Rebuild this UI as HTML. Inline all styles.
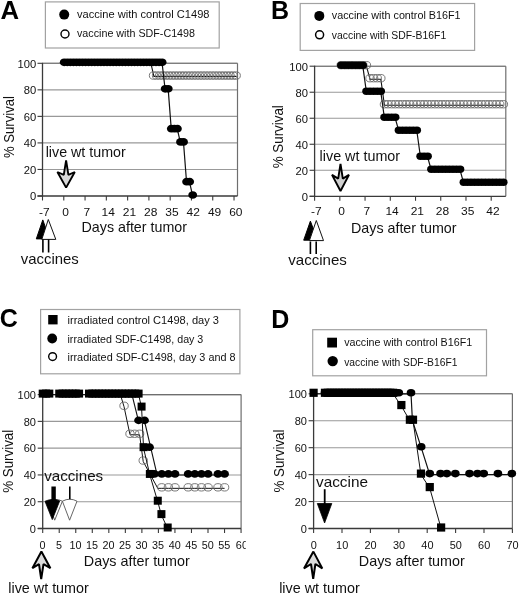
<!DOCTYPE html>
<html><head><meta charset="utf-8"><style>
html,body{margin:0;padding:0;background:#fff;}
svg{display:block;font-family:"Liberation Sans", sans-serif;filter:grayscale(1);}
</style></head><body>
<svg width="520" height="595" viewBox="0 0 520 595">
<defs><clipPath id="cc"><rect x="0" y="0" width="245.8" height="595"/></clipPath></defs>
<text x="0.6" y="18.7" font-size="25" textLength="18.6" lengthAdjust="spacingAndGlyphs" font-weight="bold" fill="#000">A</text>
<rect x="45.4" y="1.9" width="173.8" height="46.1" fill="none" stroke="#a2a2a2" stroke-width="1.2"/>
<ellipse cx="64.20" cy="14.60" rx="5.00" ry="5.00" fill="#000" stroke="none" stroke-width="0"/>
<ellipse cx="65.00" cy="34.00" rx="4.00" ry="4.00" fill="#fff" stroke="#000" stroke-width="1.4"/>
<text x="77.0" y="17.5" font-size="11.6" textLength="132.5" lengthAdjust="spacingAndGlyphs" fill="#111">vaccine with control C1498</text>
<text x="77.0" y="37.3" font-size="11.6" textLength="118" lengthAdjust="spacingAndGlyphs" fill="#111">vaccine with SDF-C1498</text>
<line x1="37.50" y1="196.00" x2="42.50" y2="196.00" stroke="#3a3a3a" stroke-width="1.1"/>
<line x1="42.50" y1="169.46" x2="237.50" y2="169.46" stroke="#999999" stroke-width="1.1"/>
<line x1="37.50" y1="169.46" x2="42.50" y2="169.46" stroke="#3a3a3a" stroke-width="1.1"/>
<line x1="42.50" y1="142.92" x2="237.50" y2="142.92" stroke="#999999" stroke-width="1.1"/>
<line x1="37.50" y1="142.92" x2="42.50" y2="142.92" stroke="#3a3a3a" stroke-width="1.1"/>
<line x1="42.50" y1="116.38" x2="237.50" y2="116.38" stroke="#999999" stroke-width="1.1"/>
<line x1="37.50" y1="116.38" x2="42.50" y2="116.38" stroke="#3a3a3a" stroke-width="1.1"/>
<line x1="42.50" y1="89.84" x2="237.50" y2="89.84" stroke="#999999" stroke-width="1.1"/>
<line x1="37.50" y1="89.84" x2="42.50" y2="89.84" stroke="#3a3a3a" stroke-width="1.1"/>
<line x1="42.50" y1="63.30" x2="237.50" y2="63.30" stroke="#999999" stroke-width="1.1"/>
<line x1="37.50" y1="63.30" x2="42.50" y2="63.30" stroke="#3a3a3a" stroke-width="1.1"/>
<line x1="237.50" y1="63.30" x2="237.50" y2="196.00" stroke="#6e6e6e" stroke-width="1.2"/>
<line x1="42.50" y1="63.30" x2="237.50" y2="63.30" stroke="#6e6e6e" stroke-width="1.1"/>
<line x1="42.50" y1="62.80" x2="42.50" y2="196.50" stroke="#3a3a3a" stroke-width="1.3"/>
<line x1="37.50" y1="196.00" x2="237.50" y2="196.00" stroke="#3a3a3a" stroke-width="1.3"/>
<text x="36.2" y="200.3" font-size="10.5" text-anchor="end" textLength="6.25" lengthAdjust="spacingAndGlyphs" fill="#111">0</text>
<text x="36.2" y="173.76000000000002" font-size="10.5" text-anchor="end" textLength="12.49" lengthAdjust="spacingAndGlyphs" fill="#111">20</text>
<text x="36.2" y="147.22000000000003" font-size="10.5" text-anchor="end" textLength="12.49" lengthAdjust="spacingAndGlyphs" fill="#111">40</text>
<text x="36.2" y="120.68" font-size="10.5" text-anchor="end" textLength="12.49" lengthAdjust="spacingAndGlyphs" fill="#111">60</text>
<text x="36.2" y="94.14" font-size="10.5" text-anchor="end" textLength="12.49" lengthAdjust="spacingAndGlyphs" fill="#111">80</text>
<text x="36.2" y="67.60000000000001" font-size="10.5" text-anchor="end" textLength="18.74" lengthAdjust="spacingAndGlyphs" fill="#111">100</text>
<line x1="42.50" y1="196.00" x2="42.50" y2="200.50" stroke="#3a3a3a" stroke-width="1.1"/>
<text x="44.3" y="215.5" font-size="10.7" text-anchor="middle" textLength="10.65" lengthAdjust="spacingAndGlyphs" fill="#111">-7</text>
<line x1="63.78" y1="196.00" x2="63.78" y2="200.50" stroke="#3a3a3a" stroke-width="1.1"/>
<text x="65.58" y="215.5" font-size="10.7" text-anchor="middle" textLength="6.66" lengthAdjust="spacingAndGlyphs" fill="#111">0</text>
<line x1="85.06" y1="196.00" x2="85.06" y2="200.50" stroke="#3a3a3a" stroke-width="1.1"/>
<text x="86.86" y="215.5" font-size="10.7" text-anchor="middle" textLength="6.66" lengthAdjust="spacingAndGlyphs" fill="#111">7</text>
<line x1="106.34" y1="196.00" x2="106.34" y2="200.50" stroke="#3a3a3a" stroke-width="1.1"/>
<text x="108.14" y="215.5" font-size="10.7" text-anchor="middle" textLength="13.33" lengthAdjust="spacingAndGlyphs" fill="#111">14</text>
<line x1="127.62" y1="196.00" x2="127.62" y2="200.50" stroke="#3a3a3a" stroke-width="1.1"/>
<text x="129.42000000000002" y="215.5" font-size="10.7" text-anchor="middle" textLength="13.33" lengthAdjust="spacingAndGlyphs" fill="#111">21</text>
<line x1="148.90" y1="196.00" x2="148.90" y2="200.50" stroke="#3a3a3a" stroke-width="1.1"/>
<text x="150.70000000000002" y="215.5" font-size="10.7" text-anchor="middle" textLength="13.33" lengthAdjust="spacingAndGlyphs" fill="#111">28</text>
<line x1="170.18" y1="196.00" x2="170.18" y2="200.50" stroke="#3a3a3a" stroke-width="1.1"/>
<text x="171.98000000000002" y="215.5" font-size="10.7" text-anchor="middle" textLength="13.33" lengthAdjust="spacingAndGlyphs" fill="#111">35</text>
<line x1="191.46" y1="196.00" x2="191.46" y2="200.50" stroke="#3a3a3a" stroke-width="1.1"/>
<text x="193.26000000000002" y="215.5" font-size="10.7" text-anchor="middle" textLength="13.33" lengthAdjust="spacingAndGlyphs" fill="#111">42</text>
<line x1="212.74" y1="196.00" x2="212.74" y2="200.50" stroke="#3a3a3a" stroke-width="1.1"/>
<text x="214.54000000000002" y="215.5" font-size="10.7" text-anchor="middle" textLength="13.33" lengthAdjust="spacingAndGlyphs" fill="#111">49</text>
<line x1="234.02" y1="196.00" x2="234.02" y2="200.50" stroke="#3a3a3a" stroke-width="1.1"/>
<text x="235.82000000000002" y="215.5" font-size="10.7" text-anchor="middle" textLength="13.33" lengthAdjust="spacingAndGlyphs" fill="#111">60</text>
<polyline points="65.20,63.30 68.26,63.30 71.32,63.30 74.38,63.30 77.44,63.30 80.50,63.30 83.56,63.30 86.62,63.30 89.68,63.30 92.74,63.30 95.80,63.30 98.86,63.30 101.92,63.30 104.98,63.30 108.04,63.30 111.10,63.30 114.16,63.30 117.22,63.30 120.28,63.30 123.34,63.30 126.40,63.30 129.46,63.30 132.52,63.30 135.58,63.30 138.64,63.30 141.70,63.30 144.76,63.30 147.82,63.30 150.88,63.30 153.94,76.36 157.00,76.36 160.06,76.36 163.12,76.36 166.18,76.36 169.24,76.36 172.30,76.36 175.36,76.36 178.42,76.36 181.48,76.36 184.54,76.36 187.60,76.36 190.66,76.36 193.72,76.36 196.78,76.36 199.84,76.36 202.90,76.36 205.96,76.36 209.02,76.36 212.08,76.36 215.14,76.36 218.20,76.36 221.26,76.36 224.32,76.36 227.38,76.36 230.44,76.36 233.50,76.36 236.56,76.36" fill="none" stroke="#111" stroke-width="1.1"/>
<ellipse cx="153.54" cy="75.56" rx="4.20" ry="3.70" fill="none" stroke="#6a6a6a" stroke-width="0.9"/>
<ellipse cx="156.60" cy="75.56" rx="4.20" ry="3.70" fill="none" stroke="#6a6a6a" stroke-width="0.9"/>
<ellipse cx="159.66" cy="75.56" rx="4.20" ry="3.70" fill="none" stroke="#6a6a6a" stroke-width="0.9"/>
<ellipse cx="162.72" cy="75.56" rx="4.20" ry="3.70" fill="none" stroke="#6a6a6a" stroke-width="0.9"/>
<ellipse cx="165.78" cy="75.56" rx="4.20" ry="3.70" fill="none" stroke="#6a6a6a" stroke-width="0.9"/>
<ellipse cx="168.84" cy="75.56" rx="4.20" ry="3.70" fill="none" stroke="#6a6a6a" stroke-width="0.9"/>
<ellipse cx="171.90" cy="75.56" rx="4.20" ry="3.70" fill="none" stroke="#6a6a6a" stroke-width="0.9"/>
<ellipse cx="174.96" cy="75.56" rx="4.20" ry="3.70" fill="none" stroke="#6a6a6a" stroke-width="0.9"/>
<ellipse cx="178.02" cy="75.56" rx="4.20" ry="3.70" fill="none" stroke="#6a6a6a" stroke-width="0.9"/>
<ellipse cx="181.08" cy="75.56" rx="4.20" ry="3.70" fill="none" stroke="#6a6a6a" stroke-width="0.9"/>
<ellipse cx="184.14" cy="75.56" rx="4.20" ry="3.70" fill="none" stroke="#6a6a6a" stroke-width="0.9"/>
<ellipse cx="187.20" cy="75.56" rx="4.20" ry="3.70" fill="none" stroke="#6a6a6a" stroke-width="0.9"/>
<ellipse cx="190.26" cy="75.56" rx="4.20" ry="3.70" fill="none" stroke="#6a6a6a" stroke-width="0.9"/>
<ellipse cx="193.32" cy="75.56" rx="4.20" ry="3.70" fill="none" stroke="#6a6a6a" stroke-width="0.9"/>
<ellipse cx="196.38" cy="75.56" rx="4.20" ry="3.70" fill="none" stroke="#6a6a6a" stroke-width="0.9"/>
<ellipse cx="199.44" cy="75.56" rx="4.20" ry="3.70" fill="none" stroke="#6a6a6a" stroke-width="0.9"/>
<ellipse cx="202.50" cy="75.56" rx="4.20" ry="3.70" fill="none" stroke="#6a6a6a" stroke-width="0.9"/>
<ellipse cx="205.56" cy="75.56" rx="4.20" ry="3.70" fill="none" stroke="#6a6a6a" stroke-width="0.9"/>
<ellipse cx="208.62" cy="75.56" rx="4.20" ry="3.70" fill="none" stroke="#6a6a6a" stroke-width="0.9"/>
<ellipse cx="211.68" cy="75.56" rx="4.20" ry="3.70" fill="none" stroke="#6a6a6a" stroke-width="0.9"/>
<ellipse cx="214.74" cy="75.56" rx="4.20" ry="3.70" fill="none" stroke="#6a6a6a" stroke-width="0.9"/>
<ellipse cx="217.80" cy="75.56" rx="4.20" ry="3.70" fill="none" stroke="#6a6a6a" stroke-width="0.9"/>
<ellipse cx="220.86" cy="75.56" rx="4.20" ry="3.70" fill="none" stroke="#6a6a6a" stroke-width="0.9"/>
<ellipse cx="223.92" cy="75.56" rx="4.20" ry="3.70" fill="none" stroke="#6a6a6a" stroke-width="0.9"/>
<ellipse cx="226.98" cy="75.56" rx="4.20" ry="3.70" fill="none" stroke="#6a6a6a" stroke-width="0.9"/>
<ellipse cx="230.04" cy="75.56" rx="4.20" ry="3.70" fill="none" stroke="#6a6a6a" stroke-width="0.9"/>
<ellipse cx="233.10" cy="75.56" rx="4.20" ry="3.70" fill="none" stroke="#6a6a6a" stroke-width="0.9"/>
<ellipse cx="236.16" cy="75.56" rx="4.20" ry="3.70" fill="none" stroke="#6a6a6a" stroke-width="0.9"/>
<polyline points="64.20,63.30 67.26,63.30 70.32,63.30 73.38,63.30 76.44,63.30 79.50,63.30 82.56,63.30 85.62,63.30 88.68,63.30 91.74,63.30 94.80,63.30 97.86,63.30 100.92,63.30 103.98,63.30 107.04,63.30 110.10,63.30 113.16,63.30 116.22,63.30 119.28,63.30 122.34,63.30 125.40,63.30 128.46,63.30 131.52,63.30 134.58,63.30 137.64,63.30 140.70,63.30 143.76,63.30 146.82,63.30 149.88,63.30 152.94,63.30 156.00,63.30 159.06,63.30 162.12,63.30 165.18,89.84 168.24,89.84 171.30,129.65 174.36,129.65 177.42,129.65 180.48,142.92 183.54,142.92 186.60,182.73 189.66,182.73 192.72,196.00" fill="none" stroke="#111" stroke-width="1.2"/>
<ellipse cx="64.20" cy="62.30" rx="4.40" ry="3.87" fill="#000" stroke="none" stroke-width="0"/>
<ellipse cx="67.26" cy="62.30" rx="4.40" ry="3.87" fill="#000" stroke="none" stroke-width="0"/>
<ellipse cx="70.32" cy="62.30" rx="4.40" ry="3.87" fill="#000" stroke="none" stroke-width="0"/>
<ellipse cx="73.38" cy="62.30" rx="4.40" ry="3.87" fill="#000" stroke="none" stroke-width="0"/>
<ellipse cx="76.44" cy="62.30" rx="4.40" ry="3.87" fill="#000" stroke="none" stroke-width="0"/>
<ellipse cx="79.50" cy="62.30" rx="4.40" ry="3.87" fill="#000" stroke="none" stroke-width="0"/>
<ellipse cx="82.56" cy="62.30" rx="4.40" ry="3.87" fill="#000" stroke="none" stroke-width="0"/>
<ellipse cx="85.62" cy="62.30" rx="4.40" ry="3.87" fill="#000" stroke="none" stroke-width="0"/>
<ellipse cx="88.68" cy="62.30" rx="4.40" ry="3.87" fill="#000" stroke="none" stroke-width="0"/>
<ellipse cx="91.74" cy="62.30" rx="4.40" ry="3.87" fill="#000" stroke="none" stroke-width="0"/>
<ellipse cx="94.80" cy="62.30" rx="4.40" ry="3.87" fill="#000" stroke="none" stroke-width="0"/>
<ellipse cx="97.86" cy="62.30" rx="4.40" ry="3.87" fill="#000" stroke="none" stroke-width="0"/>
<ellipse cx="100.92" cy="62.30" rx="4.40" ry="3.87" fill="#000" stroke="none" stroke-width="0"/>
<ellipse cx="103.98" cy="62.30" rx="4.40" ry="3.87" fill="#000" stroke="none" stroke-width="0"/>
<ellipse cx="107.04" cy="62.30" rx="4.40" ry="3.87" fill="#000" stroke="none" stroke-width="0"/>
<ellipse cx="110.10" cy="62.30" rx="4.40" ry="3.87" fill="#000" stroke="none" stroke-width="0"/>
<ellipse cx="113.16" cy="62.30" rx="4.40" ry="3.87" fill="#000" stroke="none" stroke-width="0"/>
<ellipse cx="116.22" cy="62.30" rx="4.40" ry="3.87" fill="#000" stroke="none" stroke-width="0"/>
<ellipse cx="119.28" cy="62.30" rx="4.40" ry="3.87" fill="#000" stroke="none" stroke-width="0"/>
<ellipse cx="122.34" cy="62.30" rx="4.40" ry="3.87" fill="#000" stroke="none" stroke-width="0"/>
<ellipse cx="125.40" cy="62.30" rx="4.40" ry="3.87" fill="#000" stroke="none" stroke-width="0"/>
<ellipse cx="128.46" cy="62.30" rx="4.40" ry="3.87" fill="#000" stroke="none" stroke-width="0"/>
<ellipse cx="131.52" cy="62.30" rx="4.40" ry="3.87" fill="#000" stroke="none" stroke-width="0"/>
<ellipse cx="134.58" cy="62.30" rx="4.40" ry="3.87" fill="#000" stroke="none" stroke-width="0"/>
<ellipse cx="137.64" cy="62.30" rx="4.40" ry="3.87" fill="#000" stroke="none" stroke-width="0"/>
<ellipse cx="140.70" cy="62.30" rx="4.40" ry="3.87" fill="#000" stroke="none" stroke-width="0"/>
<ellipse cx="143.76" cy="62.30" rx="4.40" ry="3.87" fill="#000" stroke="none" stroke-width="0"/>
<ellipse cx="146.82" cy="62.30" rx="4.40" ry="3.87" fill="#000" stroke="none" stroke-width="0"/>
<ellipse cx="149.88" cy="62.30" rx="4.40" ry="3.87" fill="#000" stroke="none" stroke-width="0"/>
<ellipse cx="152.94" cy="62.30" rx="4.40" ry="3.87" fill="#000" stroke="none" stroke-width="0"/>
<ellipse cx="156.00" cy="62.30" rx="4.40" ry="3.87" fill="#000" stroke="none" stroke-width="0"/>
<ellipse cx="159.06" cy="62.30" rx="4.40" ry="3.87" fill="#000" stroke="none" stroke-width="0"/>
<ellipse cx="162.12" cy="62.30" rx="4.40" ry="3.87" fill="#000" stroke="none" stroke-width="0"/>
<ellipse cx="165.18" cy="88.84" rx="4.40" ry="3.87" fill="#000" stroke="none" stroke-width="0"/>
<ellipse cx="168.24" cy="88.84" rx="4.40" ry="3.87" fill="#000" stroke="none" stroke-width="0"/>
<ellipse cx="171.30" cy="128.65" rx="4.40" ry="3.87" fill="#000" stroke="none" stroke-width="0"/>
<ellipse cx="174.36" cy="128.65" rx="4.40" ry="3.87" fill="#000" stroke="none" stroke-width="0"/>
<ellipse cx="177.42" cy="128.65" rx="4.40" ry="3.87" fill="#000" stroke="none" stroke-width="0"/>
<ellipse cx="180.48" cy="141.92" rx="4.40" ry="3.87" fill="#000" stroke="none" stroke-width="0"/>
<ellipse cx="183.54" cy="141.92" rx="4.40" ry="3.87" fill="#000" stroke="none" stroke-width="0"/>
<ellipse cx="186.60" cy="181.73" rx="4.40" ry="3.87" fill="#000" stroke="none" stroke-width="0"/>
<ellipse cx="189.66" cy="181.73" rx="4.40" ry="3.87" fill="#000" stroke="none" stroke-width="0"/>
<ellipse cx="192.72" cy="195.00" rx="4.40" ry="3.87" fill="#000" stroke="none" stroke-width="0"/>
<text x="0" y="0" font-size="14.5" text-anchor="middle" textLength="62" lengthAdjust="spacingAndGlyphs" fill="#111" transform="translate(14.4,127) rotate(-90)">% Survival</text>
<text x="81.5" y="232.2" font-size="14.5" textLength="105.5" lengthAdjust="spacingAndGlyphs" fill="#111">Days after tumor</text>
<text x="45.7" y="157.0" font-size="14.3" textLength="80" lengthAdjust="spacingAndGlyphs" fill="#111">live wt tumor</text>
<polygon points="66.10,160.30 68.40,174.80 74.80,172.00 66.10,187.60 57.40,172.00 63.80,174.80" fill="#d8d8d8" stroke="#000" stroke-width="1.9" stroke-linejoin="miter" stroke-miterlimit="1.6"/>
<polygon points="42.80,219.90 49.50,238.90 36.30,238.90" fill="#000" stroke="#000" stroke-width="1.0" stroke-linejoin="miter" stroke-miterlimit="1.6"/>
<polygon points="48.30,219.50 55.80,239.40 41.80,239.40" fill="#fff" stroke="#111" stroke-width="1.0" stroke-linejoin="miter" stroke-miterlimit="1.6"/>
<line x1="42.90" y1="239.50" x2="42.90" y2="252.50" stroke="#000" stroke-width="1.6"/>
<line x1="48.60" y1="239.50" x2="48.60" y2="252.50" stroke="#000" stroke-width="1.6"/>
<text x="20.8" y="263.5" font-size="14.5" textLength="58" lengthAdjust="spacingAndGlyphs" fill="#111">vaccines</text>
<text x="271.0" y="19.2" font-size="25" font-weight="bold" fill="#000">B</text>
<rect x="300.2" y="3.5" width="174.4" height="46.9" fill="none" stroke="#a2a2a2" stroke-width="1.2"/>
<ellipse cx="319.30" cy="15.90" rx="5.00" ry="5.00" fill="#000" stroke="none" stroke-width="0"/>
<ellipse cx="319.60" cy="34.80" rx="4.00" ry="4.00" fill="#fff" stroke="#000" stroke-width="1.5"/>
<text x="331.8" y="19.3" font-size="11.6" textLength="128.8" lengthAdjust="spacingAndGlyphs" fill="#111">vaccine with control B16F1</text>
<text x="331.8" y="38.8" font-size="11.6" textLength="114.4" lengthAdjust="spacingAndGlyphs" fill="#111">vaccine with SDF-B16F1</text>
<line x1="309.60" y1="196.30" x2="314.60" y2="196.30" stroke="#3a3a3a" stroke-width="1.1"/>
<line x1="314.60" y1="170.28" x2="505.80" y2="170.28" stroke="#999999" stroke-width="1.1"/>
<line x1="309.60" y1="170.28" x2="314.60" y2="170.28" stroke="#3a3a3a" stroke-width="1.1"/>
<line x1="314.60" y1="144.26" x2="505.80" y2="144.26" stroke="#999999" stroke-width="1.1"/>
<line x1="309.60" y1="144.26" x2="314.60" y2="144.26" stroke="#3a3a3a" stroke-width="1.1"/>
<line x1="314.60" y1="118.24" x2="505.80" y2="118.24" stroke="#999999" stroke-width="1.1"/>
<line x1="309.60" y1="118.24" x2="314.60" y2="118.24" stroke="#3a3a3a" stroke-width="1.1"/>
<line x1="314.60" y1="92.22" x2="505.80" y2="92.22" stroke="#999999" stroke-width="1.1"/>
<line x1="309.60" y1="92.22" x2="314.60" y2="92.22" stroke="#3a3a3a" stroke-width="1.1"/>
<line x1="314.60" y1="66.20" x2="505.80" y2="66.20" stroke="#999999" stroke-width="1.1"/>
<line x1="309.60" y1="66.20" x2="314.60" y2="66.20" stroke="#3a3a3a" stroke-width="1.1"/>
<line x1="505.80" y1="66.20" x2="505.80" y2="196.30" stroke="#6e6e6e" stroke-width="1.2"/>
<line x1="314.60" y1="66.20" x2="505.80" y2="66.20" stroke="#6e6e6e" stroke-width="1.1"/>
<line x1="314.60" y1="65.70" x2="314.60" y2="196.80" stroke="#3a3a3a" stroke-width="1.3"/>
<line x1="309.60" y1="196.30" x2="505.80" y2="196.30" stroke="#3a3a3a" stroke-width="1.3"/>
<text x="308.0" y="200.60000000000002" font-size="10.5" text-anchor="end" textLength="6.25" lengthAdjust="spacingAndGlyphs" fill="#111">0</text>
<text x="308.0" y="174.58" font-size="10.5" text-anchor="end" textLength="12.49" lengthAdjust="spacingAndGlyphs" fill="#111">20</text>
<text x="308.0" y="148.56" font-size="10.5" text-anchor="end" textLength="12.49" lengthAdjust="spacingAndGlyphs" fill="#111">40</text>
<text x="308.0" y="122.53999999999999" font-size="10.5" text-anchor="end" textLength="12.49" lengthAdjust="spacingAndGlyphs" fill="#111">60</text>
<text x="308.0" y="96.52" font-size="10.5" text-anchor="end" textLength="12.49" lengthAdjust="spacingAndGlyphs" fill="#111">80</text>
<text x="308.0" y="70.49999999999999" font-size="10.5" text-anchor="end" textLength="18.74" lengthAdjust="spacingAndGlyphs" fill="#111">100</text>
<line x1="314.60" y1="196.30" x2="314.60" y2="200.80" stroke="#3a3a3a" stroke-width="1.1"/>
<text x="316.40000000000003" y="215.3" font-size="10.7" text-anchor="middle" textLength="10.65" lengthAdjust="spacingAndGlyphs" fill="#111">-7</text>
<line x1="339.83" y1="196.30" x2="339.83" y2="200.80" stroke="#3a3a3a" stroke-width="1.1"/>
<text x="341.63000000000005" y="215.3" font-size="10.7" text-anchor="middle" textLength="6.66" lengthAdjust="spacingAndGlyphs" fill="#111">0</text>
<line x1="365.06" y1="196.30" x2="365.06" y2="200.80" stroke="#3a3a3a" stroke-width="1.1"/>
<text x="366.86" y="215.3" font-size="10.7" text-anchor="middle" textLength="6.66" lengthAdjust="spacingAndGlyphs" fill="#111">7</text>
<line x1="390.29" y1="196.30" x2="390.29" y2="200.80" stroke="#3a3a3a" stroke-width="1.1"/>
<text x="392.09000000000003" y="215.3" font-size="10.7" text-anchor="middle" textLength="13.33" lengthAdjust="spacingAndGlyphs" fill="#111">14</text>
<line x1="415.52" y1="196.30" x2="415.52" y2="200.80" stroke="#3a3a3a" stroke-width="1.1"/>
<text x="417.32000000000005" y="215.3" font-size="10.7" text-anchor="middle" textLength="13.33" lengthAdjust="spacingAndGlyphs" fill="#111">21</text>
<line x1="440.75" y1="196.30" x2="440.75" y2="200.80" stroke="#3a3a3a" stroke-width="1.1"/>
<text x="442.55" y="215.3" font-size="10.7" text-anchor="middle" textLength="13.33" lengthAdjust="spacingAndGlyphs" fill="#111">28</text>
<line x1="465.98" y1="196.30" x2="465.98" y2="200.80" stroke="#3a3a3a" stroke-width="1.1"/>
<text x="467.78000000000003" y="215.3" font-size="10.7" text-anchor="middle" textLength="13.33" lengthAdjust="spacingAndGlyphs" fill="#111">35</text>
<line x1="491.21" y1="196.30" x2="491.21" y2="200.80" stroke="#3a3a3a" stroke-width="1.1"/>
<text x="493.01000000000005" y="215.3" font-size="10.7" text-anchor="middle" textLength="13.33" lengthAdjust="spacingAndGlyphs" fill="#111">42</text>
<polyline points="341.20,66.20 344.80,66.20 348.41,66.20 352.01,66.20 355.62,66.20 359.22,66.20 362.82,66.20 366.43,66.20 370.03,79.21 373.64,79.21 377.24,79.21 380.84,79.21 384.45,105.23 388.05,105.23 391.66,105.23 395.26,105.23 398.86,105.23 402.47,105.23 406.07,105.23 409.68,105.23 413.28,105.23 416.88,105.23 420.49,105.23 424.09,105.23 427.70,105.23 431.30,105.23 434.90,105.23 438.51,105.23 442.11,105.23 445.72,105.23 449.32,105.23 452.92,105.23 456.53,105.23 460.13,105.23 463.74,105.23 467.34,105.23 470.94,105.23 474.55,105.23 478.15,105.23 481.76,105.23 485.36,105.23 488.96,105.23 492.57,105.23 496.17,105.23 499.78,105.23 503.38,105.23" fill="none" stroke="#111" stroke-width="1.1"/>
<ellipse cx="341.20" cy="65.20" rx="4.20" ry="3.70" fill="none" stroke="#6a6a6a" stroke-width="0.9"/>
<ellipse cx="344.80" cy="65.20" rx="4.20" ry="3.70" fill="none" stroke="#6a6a6a" stroke-width="0.9"/>
<ellipse cx="348.41" cy="65.20" rx="4.20" ry="3.70" fill="none" stroke="#6a6a6a" stroke-width="0.9"/>
<ellipse cx="352.01" cy="65.20" rx="4.20" ry="3.70" fill="none" stroke="#6a6a6a" stroke-width="0.9"/>
<ellipse cx="355.62" cy="65.20" rx="4.20" ry="3.70" fill="none" stroke="#6a6a6a" stroke-width="0.9"/>
<ellipse cx="359.22" cy="65.20" rx="4.20" ry="3.70" fill="none" stroke="#6a6a6a" stroke-width="0.9"/>
<ellipse cx="362.82" cy="65.20" rx="4.20" ry="3.70" fill="none" stroke="#6a6a6a" stroke-width="0.9"/>
<ellipse cx="366.43" cy="65.20" rx="4.20" ry="3.70" fill="none" stroke="#6a6a6a" stroke-width="0.9"/>
<ellipse cx="370.03" cy="78.21" rx="4.20" ry="3.70" fill="none" stroke="#6a6a6a" stroke-width="0.9"/>
<ellipse cx="373.64" cy="78.21" rx="4.20" ry="3.70" fill="none" stroke="#6a6a6a" stroke-width="0.9"/>
<ellipse cx="377.24" cy="78.21" rx="4.20" ry="3.70" fill="none" stroke="#6a6a6a" stroke-width="0.9"/>
<ellipse cx="380.84" cy="78.21" rx="4.20" ry="3.70" fill="none" stroke="#6a6a6a" stroke-width="0.9"/>
<ellipse cx="384.45" cy="104.23" rx="4.20" ry="3.70" fill="none" stroke="#6a6a6a" stroke-width="0.9"/>
<ellipse cx="388.05" cy="104.23" rx="4.20" ry="3.70" fill="none" stroke="#6a6a6a" stroke-width="0.9"/>
<ellipse cx="391.66" cy="104.23" rx="4.20" ry="3.70" fill="none" stroke="#6a6a6a" stroke-width="0.9"/>
<ellipse cx="395.26" cy="104.23" rx="4.20" ry="3.70" fill="none" stroke="#6a6a6a" stroke-width="0.9"/>
<ellipse cx="398.86" cy="104.23" rx="4.20" ry="3.70" fill="none" stroke="#6a6a6a" stroke-width="0.9"/>
<ellipse cx="402.47" cy="104.23" rx="4.20" ry="3.70" fill="none" stroke="#6a6a6a" stroke-width="0.9"/>
<ellipse cx="406.07" cy="104.23" rx="4.20" ry="3.70" fill="none" stroke="#6a6a6a" stroke-width="0.9"/>
<ellipse cx="409.68" cy="104.23" rx="4.20" ry="3.70" fill="none" stroke="#6a6a6a" stroke-width="0.9"/>
<ellipse cx="413.28" cy="104.23" rx="4.20" ry="3.70" fill="none" stroke="#6a6a6a" stroke-width="0.9"/>
<ellipse cx="416.88" cy="104.23" rx="4.20" ry="3.70" fill="none" stroke="#6a6a6a" stroke-width="0.9"/>
<ellipse cx="420.49" cy="104.23" rx="4.20" ry="3.70" fill="none" stroke="#6a6a6a" stroke-width="0.9"/>
<ellipse cx="424.09" cy="104.23" rx="4.20" ry="3.70" fill="none" stroke="#6a6a6a" stroke-width="0.9"/>
<ellipse cx="427.70" cy="104.23" rx="4.20" ry="3.70" fill="none" stroke="#6a6a6a" stroke-width="0.9"/>
<ellipse cx="431.30" cy="104.23" rx="4.20" ry="3.70" fill="none" stroke="#6a6a6a" stroke-width="0.9"/>
<ellipse cx="434.90" cy="104.23" rx="4.20" ry="3.70" fill="none" stroke="#6a6a6a" stroke-width="0.9"/>
<ellipse cx="438.51" cy="104.23" rx="4.20" ry="3.70" fill="none" stroke="#6a6a6a" stroke-width="0.9"/>
<ellipse cx="442.11" cy="104.23" rx="4.20" ry="3.70" fill="none" stroke="#6a6a6a" stroke-width="0.9"/>
<ellipse cx="445.72" cy="104.23" rx="4.20" ry="3.70" fill="none" stroke="#6a6a6a" stroke-width="0.9"/>
<ellipse cx="449.32" cy="104.23" rx="4.20" ry="3.70" fill="none" stroke="#6a6a6a" stroke-width="0.9"/>
<ellipse cx="452.92" cy="104.23" rx="4.20" ry="3.70" fill="none" stroke="#6a6a6a" stroke-width="0.9"/>
<ellipse cx="456.53" cy="104.23" rx="4.20" ry="3.70" fill="none" stroke="#6a6a6a" stroke-width="0.9"/>
<ellipse cx="460.13" cy="104.23" rx="4.20" ry="3.70" fill="none" stroke="#6a6a6a" stroke-width="0.9"/>
<ellipse cx="463.74" cy="104.23" rx="4.20" ry="3.70" fill="none" stroke="#6a6a6a" stroke-width="0.9"/>
<ellipse cx="467.34" cy="104.23" rx="4.20" ry="3.70" fill="none" stroke="#6a6a6a" stroke-width="0.9"/>
<ellipse cx="470.94" cy="104.23" rx="4.20" ry="3.70" fill="none" stroke="#6a6a6a" stroke-width="0.9"/>
<ellipse cx="474.55" cy="104.23" rx="4.20" ry="3.70" fill="none" stroke="#6a6a6a" stroke-width="0.9"/>
<ellipse cx="478.15" cy="104.23" rx="4.20" ry="3.70" fill="none" stroke="#6a6a6a" stroke-width="0.9"/>
<ellipse cx="481.76" cy="104.23" rx="4.20" ry="3.70" fill="none" stroke="#6a6a6a" stroke-width="0.9"/>
<ellipse cx="485.36" cy="104.23" rx="4.20" ry="3.70" fill="none" stroke="#6a6a6a" stroke-width="0.9"/>
<ellipse cx="488.96" cy="104.23" rx="4.20" ry="3.70" fill="none" stroke="#6a6a6a" stroke-width="0.9"/>
<ellipse cx="492.57" cy="104.23" rx="4.20" ry="3.70" fill="none" stroke="#6a6a6a" stroke-width="0.9"/>
<ellipse cx="496.17" cy="104.23" rx="4.20" ry="3.70" fill="none" stroke="#6a6a6a" stroke-width="0.9"/>
<ellipse cx="499.78" cy="104.23" rx="4.20" ry="3.70" fill="none" stroke="#6a6a6a" stroke-width="0.9"/>
<ellipse cx="503.38" cy="104.23" rx="4.20" ry="3.70" fill="none" stroke="#6a6a6a" stroke-width="0.9"/>
<polyline points="341.20,66.20 344.80,66.20 348.41,66.20 352.01,66.20 355.62,66.20 359.22,66.20 362.82,66.20 366.43,92.22 370.03,92.22 373.64,92.22 377.24,92.22 380.84,92.22 384.45,118.24 388.05,118.24 391.66,118.24 395.26,118.24 398.86,131.25 402.47,131.25 406.07,131.25 409.68,131.25 413.28,131.25 416.88,131.25 420.49,157.27 424.09,157.27 427.70,157.27 431.30,170.28 434.90,170.28 438.51,170.28 442.11,170.28 445.72,170.28 449.32,170.28 452.92,170.28 456.53,170.28 460.13,170.28 463.74,183.29 467.34,183.29 470.94,183.29 474.55,183.29 478.15,183.29 481.76,183.29 485.36,183.29 488.96,183.29 492.57,183.29 496.17,183.29 499.78,183.29 503.38,183.29" fill="none" stroke="#111" stroke-width="1.2"/>
<ellipse cx="341.20" cy="65.20" rx="4.20" ry="3.70" fill="#000" stroke="none" stroke-width="0"/>
<ellipse cx="344.80" cy="65.20" rx="4.20" ry="3.70" fill="#000" stroke="none" stroke-width="0"/>
<ellipse cx="348.41" cy="65.20" rx="4.20" ry="3.70" fill="#000" stroke="none" stroke-width="0"/>
<ellipse cx="352.01" cy="65.20" rx="4.20" ry="3.70" fill="#000" stroke="none" stroke-width="0"/>
<ellipse cx="355.62" cy="65.20" rx="4.20" ry="3.70" fill="#000" stroke="none" stroke-width="0"/>
<ellipse cx="359.22" cy="65.20" rx="4.20" ry="3.70" fill="#000" stroke="none" stroke-width="0"/>
<ellipse cx="362.82" cy="65.20" rx="4.20" ry="3.70" fill="#000" stroke="none" stroke-width="0"/>
<ellipse cx="366.43" cy="91.22" rx="4.20" ry="3.70" fill="#000" stroke="none" stroke-width="0"/>
<ellipse cx="370.03" cy="91.22" rx="4.20" ry="3.70" fill="#000" stroke="none" stroke-width="0"/>
<ellipse cx="373.64" cy="91.22" rx="4.20" ry="3.70" fill="#000" stroke="none" stroke-width="0"/>
<ellipse cx="377.24" cy="91.22" rx="4.20" ry="3.70" fill="#000" stroke="none" stroke-width="0"/>
<ellipse cx="380.84" cy="91.22" rx="4.20" ry="3.70" fill="#000" stroke="none" stroke-width="0"/>
<ellipse cx="384.45" cy="117.24" rx="4.20" ry="3.70" fill="#000" stroke="none" stroke-width="0"/>
<ellipse cx="388.05" cy="117.24" rx="4.20" ry="3.70" fill="#000" stroke="none" stroke-width="0"/>
<ellipse cx="391.66" cy="117.24" rx="4.20" ry="3.70" fill="#000" stroke="none" stroke-width="0"/>
<ellipse cx="395.26" cy="117.24" rx="4.20" ry="3.70" fill="#000" stroke="none" stroke-width="0"/>
<ellipse cx="398.86" cy="130.25" rx="4.20" ry="3.70" fill="#000" stroke="none" stroke-width="0"/>
<ellipse cx="402.47" cy="130.25" rx="4.20" ry="3.70" fill="#000" stroke="none" stroke-width="0"/>
<ellipse cx="406.07" cy="130.25" rx="4.20" ry="3.70" fill="#000" stroke="none" stroke-width="0"/>
<ellipse cx="409.68" cy="130.25" rx="4.20" ry="3.70" fill="#000" stroke="none" stroke-width="0"/>
<ellipse cx="413.28" cy="130.25" rx="4.20" ry="3.70" fill="#000" stroke="none" stroke-width="0"/>
<ellipse cx="416.88" cy="130.25" rx="4.20" ry="3.70" fill="#000" stroke="none" stroke-width="0"/>
<ellipse cx="420.49" cy="156.27" rx="4.20" ry="3.70" fill="#000" stroke="none" stroke-width="0"/>
<ellipse cx="424.09" cy="156.27" rx="4.20" ry="3.70" fill="#000" stroke="none" stroke-width="0"/>
<ellipse cx="427.70" cy="156.27" rx="4.20" ry="3.70" fill="#000" stroke="none" stroke-width="0"/>
<ellipse cx="431.30" cy="169.28" rx="4.20" ry="3.70" fill="#000" stroke="none" stroke-width="0"/>
<ellipse cx="434.90" cy="169.28" rx="4.20" ry="3.70" fill="#000" stroke="none" stroke-width="0"/>
<ellipse cx="438.51" cy="169.28" rx="4.20" ry="3.70" fill="#000" stroke="none" stroke-width="0"/>
<ellipse cx="442.11" cy="169.28" rx="4.20" ry="3.70" fill="#000" stroke="none" stroke-width="0"/>
<ellipse cx="445.72" cy="169.28" rx="4.20" ry="3.70" fill="#000" stroke="none" stroke-width="0"/>
<ellipse cx="449.32" cy="169.28" rx="4.20" ry="3.70" fill="#000" stroke="none" stroke-width="0"/>
<ellipse cx="452.92" cy="169.28" rx="4.20" ry="3.70" fill="#000" stroke="none" stroke-width="0"/>
<ellipse cx="456.53" cy="169.28" rx="4.20" ry="3.70" fill="#000" stroke="none" stroke-width="0"/>
<ellipse cx="460.13" cy="169.28" rx="4.20" ry="3.70" fill="#000" stroke="none" stroke-width="0"/>
<ellipse cx="463.74" cy="182.29" rx="4.20" ry="3.70" fill="#000" stroke="none" stroke-width="0"/>
<ellipse cx="467.34" cy="182.29" rx="4.20" ry="3.70" fill="#000" stroke="none" stroke-width="0"/>
<ellipse cx="470.94" cy="182.29" rx="4.20" ry="3.70" fill="#000" stroke="none" stroke-width="0"/>
<ellipse cx="474.55" cy="182.29" rx="4.20" ry="3.70" fill="#000" stroke="none" stroke-width="0"/>
<ellipse cx="478.15" cy="182.29" rx="4.20" ry="3.70" fill="#000" stroke="none" stroke-width="0"/>
<ellipse cx="481.76" cy="182.29" rx="4.20" ry="3.70" fill="#000" stroke="none" stroke-width="0"/>
<ellipse cx="485.36" cy="182.29" rx="4.20" ry="3.70" fill="#000" stroke="none" stroke-width="0"/>
<ellipse cx="488.96" cy="182.29" rx="4.20" ry="3.70" fill="#000" stroke="none" stroke-width="0"/>
<ellipse cx="492.57" cy="182.29" rx="4.20" ry="3.70" fill="#000" stroke="none" stroke-width="0"/>
<ellipse cx="496.17" cy="182.29" rx="4.20" ry="3.70" fill="#000" stroke="none" stroke-width="0"/>
<ellipse cx="499.78" cy="182.29" rx="4.20" ry="3.70" fill="#000" stroke="none" stroke-width="0"/>
<ellipse cx="503.38" cy="182.29" rx="4.20" ry="3.70" fill="#000" stroke="none" stroke-width="0"/>
<text x="0" y="0" font-size="14.5" text-anchor="middle" textLength="63" lengthAdjust="spacingAndGlyphs" fill="#111" transform="translate(283.1,136.7) rotate(-90)">% Survival</text>
<text x="351.0" y="233.0" font-size="14.5" textLength="105.5" lengthAdjust="spacingAndGlyphs" fill="#111">Days after tumor</text>
<text x="319.6" y="160.6" font-size="14.3" textLength="80.5" lengthAdjust="spacingAndGlyphs" fill="#111">live wt tumor</text>
<polygon points="340.50,163.90 342.80,178.60 349.00,174.90 340.50,191.00 332.00,174.90 338.20,178.60" fill="#d0d0d0" stroke="#000" stroke-width="1.9" stroke-linejoin="miter" stroke-miterlimit="1.6"/>
<polygon points="310.40,221.10 317.50,240.20 303.70,240.20" fill="#000" stroke="#000" stroke-width="1.0" stroke-linejoin="miter" stroke-miterlimit="1.6"/>
<polygon points="316.30,220.50 323.50,240.60 309.40,240.60" fill="#fff" stroke="#111" stroke-width="1.0" stroke-linejoin="miter" stroke-miterlimit="1.6"/>
<line x1="310.40" y1="241.50" x2="310.40" y2="254.00" stroke="#000" stroke-width="1.6"/>
<line x1="316.20" y1="241.50" x2="316.20" y2="254.00" stroke="#000" stroke-width="1.6"/>
<text x="288.3" y="264.6" font-size="14.5" textLength="58.6" lengthAdjust="spacingAndGlyphs" fill="#111">vaccines</text>
<text x="-0.2" y="327.1" font-size="25" font-weight="bold" fill="#000">C</text>
<rect x="40.6" y="309.5" width="199.3" height="64.3" fill="none" stroke="#a2a2a2" stroke-width="1.2"/>
<rect x="48.20" y="315.00" width="9.4" height="9.4" fill="#000"/>
<ellipse cx="52.20" cy="338.50" rx="4.90" ry="4.90" fill="#000" stroke="none" stroke-width="0"/>
<ellipse cx="52.60" cy="356.60" rx="3.90" ry="3.90" fill="#fff" stroke="#000" stroke-width="1.4"/>
<text x="67.5" y="323.8" font-size="11.6" textLength="151.5" lengthAdjust="spacingAndGlyphs" fill="#111">irradiated control C1498, day 3</text>
<text x="67.5" y="342.8" font-size="11.6" textLength="135.8" lengthAdjust="spacingAndGlyphs" fill="#111">irradiated SDF-C1498, day 3</text>
<text x="67.5" y="360.8" font-size="11.6" textLength="168" lengthAdjust="spacingAndGlyphs" fill="#111">irradiated SDF-C1498, day 3 and 8</text>
<line x1="37.70" y1="528.50" x2="42.70" y2="528.50" stroke="#3a3a3a" stroke-width="1.1"/>
<line x1="42.70" y1="501.72" x2="241.10" y2="501.72" stroke="#999999" stroke-width="1.1"/>
<line x1="37.70" y1="501.72" x2="42.70" y2="501.72" stroke="#3a3a3a" stroke-width="1.1"/>
<line x1="42.70" y1="474.94" x2="241.10" y2="474.94" stroke="#999999" stroke-width="1.1"/>
<line x1="37.70" y1="474.94" x2="42.70" y2="474.94" stroke="#3a3a3a" stroke-width="1.1"/>
<line x1="42.70" y1="448.16" x2="241.10" y2="448.16" stroke="#999999" stroke-width="1.1"/>
<line x1="37.70" y1="448.16" x2="42.70" y2="448.16" stroke="#3a3a3a" stroke-width="1.1"/>
<line x1="42.70" y1="421.38" x2="241.10" y2="421.38" stroke="#999999" stroke-width="1.1"/>
<line x1="37.70" y1="421.38" x2="42.70" y2="421.38" stroke="#3a3a3a" stroke-width="1.1"/>
<line x1="42.70" y1="394.60" x2="241.10" y2="394.60" stroke="#999999" stroke-width="1.1"/>
<line x1="37.70" y1="394.60" x2="42.70" y2="394.60" stroke="#3a3a3a" stroke-width="1.1"/>
<line x1="241.10" y1="394.60" x2="241.10" y2="528.50" stroke="#6e6e6e" stroke-width="1.2"/>
<line x1="42.70" y1="394.60" x2="241.10" y2="394.60" stroke="#6e6e6e" stroke-width="1.1"/>
<line x1="42.70" y1="394.10" x2="42.70" y2="529.00" stroke="#3a3a3a" stroke-width="1.3"/>
<line x1="37.70" y1="528.50" x2="241.10" y2="528.50" stroke="#3a3a3a" stroke-width="1.3"/>
<text x="36.0" y="532.8" font-size="10.3" text-anchor="end" textLength="6.13" lengthAdjust="spacingAndGlyphs" fill="#111">0</text>
<text x="36.0" y="506.02000000000004" font-size="10.3" text-anchor="end" textLength="12.26" lengthAdjust="spacingAndGlyphs" fill="#111">20</text>
<text x="36.0" y="479.24" font-size="10.3" text-anchor="end" textLength="12.26" lengthAdjust="spacingAndGlyphs" fill="#111">40</text>
<text x="36.0" y="452.46000000000004" font-size="10.3" text-anchor="end" textLength="12.26" lengthAdjust="spacingAndGlyphs" fill="#111">60</text>
<text x="36.0" y="425.68" font-size="10.3" text-anchor="end" textLength="12.26" lengthAdjust="spacingAndGlyphs" fill="#111">80</text>
<text x="36.0" y="398.90000000000003" font-size="10.3" text-anchor="end" textLength="18.38" lengthAdjust="spacingAndGlyphs" fill="#111">100</text>
<line x1="42.70" y1="528.50" x2="42.70" y2="533.00" stroke="#3a3a3a" stroke-width="1.1"/>
<text x="42.400000000000006" y="549.0" font-size="10.3" text-anchor="middle" textLength="6.01" lengthAdjust="spacingAndGlyphs" fill="#111">0</text>
<line x1="59.23" y1="528.50" x2="59.23" y2="533.00" stroke="#3a3a3a" stroke-width="1.1"/>
<text x="58.93000000000001" y="549.0" font-size="10.3" text-anchor="middle" textLength="6.01" lengthAdjust="spacingAndGlyphs" fill="#111">5</text>
<line x1="75.76" y1="528.50" x2="75.76" y2="533.00" stroke="#3a3a3a" stroke-width="1.1"/>
<text x="75.46000000000001" y="549.0" font-size="10.3" text-anchor="middle" textLength="12.03" lengthAdjust="spacingAndGlyphs" fill="#111">10</text>
<line x1="92.29" y1="528.50" x2="92.29" y2="533.00" stroke="#3a3a3a" stroke-width="1.1"/>
<text x="91.99000000000001" y="549.0" font-size="10.3" text-anchor="middle" textLength="12.03" lengthAdjust="spacingAndGlyphs" fill="#111">15</text>
<line x1="108.82" y1="528.50" x2="108.82" y2="533.00" stroke="#3a3a3a" stroke-width="1.1"/>
<text x="108.52000000000001" y="549.0" font-size="10.3" text-anchor="middle" textLength="12.03" lengthAdjust="spacingAndGlyphs" fill="#111">20</text>
<line x1="125.35" y1="528.50" x2="125.35" y2="533.00" stroke="#3a3a3a" stroke-width="1.1"/>
<text x="125.05000000000001" y="549.0" font-size="10.3" text-anchor="middle" textLength="12.03" lengthAdjust="spacingAndGlyphs" fill="#111">25</text>
<line x1="141.88" y1="528.50" x2="141.88" y2="533.00" stroke="#3a3a3a" stroke-width="1.1"/>
<text x="141.57999999999998" y="549.0" font-size="10.3" text-anchor="middle" textLength="12.03" lengthAdjust="spacingAndGlyphs" fill="#111">30</text>
<line x1="158.41" y1="528.50" x2="158.41" y2="533.00" stroke="#3a3a3a" stroke-width="1.1"/>
<text x="158.11" y="549.0" font-size="10.3" text-anchor="middle" textLength="12.03" lengthAdjust="spacingAndGlyphs" fill="#111">35</text>
<line x1="174.94" y1="528.50" x2="174.94" y2="533.00" stroke="#3a3a3a" stroke-width="1.1"/>
<text x="174.64" y="549.0" font-size="10.3" text-anchor="middle" textLength="12.03" lengthAdjust="spacingAndGlyphs" fill="#111">40</text>
<line x1="191.47" y1="528.50" x2="191.47" y2="533.00" stroke="#3a3a3a" stroke-width="1.1"/>
<text x="191.17000000000002" y="549.0" font-size="10.3" text-anchor="middle" textLength="12.03" lengthAdjust="spacingAndGlyphs" fill="#111">45</text>
<line x1="208.00" y1="528.50" x2="208.00" y2="533.00" stroke="#3a3a3a" stroke-width="1.1"/>
<text x="207.7" y="549.0" font-size="10.3" text-anchor="middle" textLength="12.03" lengthAdjust="spacingAndGlyphs" fill="#111">50</text>
<line x1="224.53" y1="528.50" x2="224.53" y2="533.00" stroke="#3a3a3a" stroke-width="1.1"/>
<text x="224.23000000000002" y="549.0" font-size="10.3" text-anchor="middle" textLength="12.03" lengthAdjust="spacingAndGlyphs" fill="#111">55</text>
<line x1="241.06" y1="528.50" x2="241.06" y2="533.00" stroke="#3a3a3a" stroke-width="1.1"/>
<text x="241.9" y="549.0" font-size="10.3" text-anchor="middle" textLength="12.1" lengthAdjust="spacingAndGlyphs" fill="#111" clip-path="url(#cc)">60</text>
<polyline points="120.41,394.60 124.05,406.78 130.00,434.77 139.60,434.77 143.23,461.55 157.78,488.33 161.75,488.33 168.37,488.33 174.98,488.33 188.21,488.33 194.82,488.33 201.44,488.33 208.05,488.33 217.97,488.33 224.58,488.33" fill="none" stroke="#111" stroke-width="1.0"/>
<ellipse cx="124.05" cy="405.78" rx="4.20" ry="3.70" fill="none" stroke="#6a6a6a" stroke-width="0.9"/>
<ellipse cx="130.00" cy="433.77" rx="4.20" ry="3.70" fill="none" stroke="#6a6a6a" stroke-width="0.9"/>
<ellipse cx="134.63" cy="433.77" rx="4.20" ry="3.70" fill="none" stroke="#6a6a6a" stroke-width="0.9"/>
<ellipse cx="139.60" cy="433.77" rx="4.20" ry="3.70" fill="none" stroke="#6a6a6a" stroke-width="0.9"/>
<ellipse cx="143.23" cy="460.55" rx="4.20" ry="3.70" fill="none" stroke="#6a6a6a" stroke-width="0.9"/>
<ellipse cx="161.75" cy="487.33" rx="4.20" ry="3.70" fill="none" stroke="#6a6a6a" stroke-width="0.9"/>
<ellipse cx="168.37" cy="487.33" rx="4.20" ry="3.70" fill="none" stroke="#6a6a6a" stroke-width="0.9"/>
<ellipse cx="174.98" cy="487.33" rx="4.20" ry="3.70" fill="none" stroke="#6a6a6a" stroke-width="0.9"/>
<ellipse cx="188.21" cy="487.33" rx="4.20" ry="3.70" fill="none" stroke="#6a6a6a" stroke-width="0.9"/>
<ellipse cx="194.82" cy="487.33" rx="4.20" ry="3.70" fill="none" stroke="#6a6a6a" stroke-width="0.9"/>
<ellipse cx="201.44" cy="487.33" rx="4.20" ry="3.70" fill="none" stroke="#6a6a6a" stroke-width="0.9"/>
<ellipse cx="208.05" cy="487.33" rx="4.20" ry="3.70" fill="none" stroke="#6a6a6a" stroke-width="0.9"/>
<ellipse cx="217.97" cy="487.33" rx="4.20" ry="3.70" fill="none" stroke="#6a6a6a" stroke-width="0.9"/>
<ellipse cx="224.58" cy="487.33" rx="4.20" ry="3.70" fill="none" stroke="#6a6a6a" stroke-width="0.9"/>
<polyline points="131.99,394.60 138.60,421.38 144.56,421.38 157.12,474.94 161.75,474.94 168.37,474.94 174.98,474.94 188.21,474.94 194.82,474.94 201.44,474.94 208.05,474.94 217.97,474.94 224.58,474.94" fill="none" stroke="#111" stroke-width="1.1"/>
<ellipse cx="138.60" cy="420.38" rx="4.40" ry="3.87" fill="#000" stroke="none" stroke-width="0"/>
<ellipse cx="144.56" cy="420.38" rx="4.40" ry="3.87" fill="#000" stroke="none" stroke-width="0"/>
<ellipse cx="149.52" cy="447.16" rx="4.40" ry="3.87" fill="#000" stroke="none" stroke-width="0"/>
<ellipse cx="154.48" cy="473.94" rx="4.40" ry="3.87" fill="#000" stroke="none" stroke-width="0"/>
<ellipse cx="161.75" cy="473.94" rx="4.40" ry="3.87" fill="#000" stroke="none" stroke-width="0"/>
<ellipse cx="168.37" cy="473.94" rx="4.40" ry="3.87" fill="#000" stroke="none" stroke-width="0"/>
<ellipse cx="174.98" cy="473.94" rx="4.40" ry="3.87" fill="#000" stroke="none" stroke-width="0"/>
<ellipse cx="188.21" cy="473.94" rx="4.40" ry="3.87" fill="#000" stroke="none" stroke-width="0"/>
<ellipse cx="194.82" cy="473.94" rx="4.40" ry="3.87" fill="#000" stroke="none" stroke-width="0"/>
<ellipse cx="201.44" cy="473.94" rx="4.40" ry="3.87" fill="#000" stroke="none" stroke-width="0"/>
<ellipse cx="208.05" cy="473.94" rx="4.40" ry="3.87" fill="#000" stroke="none" stroke-width="0"/>
<ellipse cx="217.97" cy="473.94" rx="4.40" ry="3.87" fill="#000" stroke="none" stroke-width="0"/>
<ellipse cx="224.58" cy="473.94" rx="4.40" ry="3.87" fill="#000" stroke="none" stroke-width="0"/>
<polyline points="42.70,394.60 46.01,394.60 49.31,394.60 59.23,394.60 62.54,394.60 65.85,394.60 69.16,394.60 72.46,394.60 75.77,394.60 79.08,394.60 89.00,394.60 92.31,394.60 95.61,394.60 98.92,394.60 102.23,394.60 105.53,394.60 108.84,394.60 112.15,394.60 115.45,394.60 118.76,394.60 122.07,394.60 125.38,394.60 128.68,394.60 131.99,394.60 135.30,394.60 138.60,394.60 141.58,407.59 143.56,448.16 149.85,474.94 157.78,501.72 161.42,515.11 167.70,528.50" fill="none" stroke="#111" stroke-width="1.0"/>
<rect x="38.70" y="389.60" width="8.0" height="8.0" fill="#000"/>
<rect x="42.01" y="389.60" width="8.0" height="8.0" fill="#000"/>
<rect x="45.31" y="389.60" width="8.0" height="8.0" fill="#000"/>
<rect x="55.23" y="389.60" width="8.0" height="8.0" fill="#000"/>
<rect x="58.54" y="389.60" width="8.0" height="8.0" fill="#000"/>
<rect x="61.85" y="389.60" width="8.0" height="8.0" fill="#000"/>
<rect x="65.16" y="389.60" width="8.0" height="8.0" fill="#000"/>
<rect x="68.46" y="389.60" width="8.0" height="8.0" fill="#000"/>
<rect x="71.77" y="389.60" width="8.0" height="8.0" fill="#000"/>
<rect x="75.08" y="389.60" width="8.0" height="8.0" fill="#000"/>
<rect x="85.00" y="389.60" width="8.0" height="8.0" fill="#000"/>
<rect x="88.31" y="389.60" width="8.0" height="8.0" fill="#000"/>
<rect x="91.61" y="389.60" width="8.0" height="8.0" fill="#000"/>
<rect x="94.92" y="389.60" width="8.0" height="8.0" fill="#000"/>
<rect x="98.23" y="389.60" width="8.0" height="8.0" fill="#000"/>
<rect x="101.53" y="389.60" width="8.0" height="8.0" fill="#000"/>
<rect x="104.84" y="389.60" width="8.0" height="8.0" fill="#000"/>
<rect x="108.15" y="389.60" width="8.0" height="8.0" fill="#000"/>
<rect x="111.45" y="389.60" width="8.0" height="8.0" fill="#000"/>
<rect x="114.76" y="389.60" width="8.0" height="8.0" fill="#000"/>
<rect x="118.07" y="389.60" width="8.0" height="8.0" fill="#000"/>
<rect x="121.38" y="389.60" width="8.0" height="8.0" fill="#000"/>
<rect x="124.68" y="389.60" width="8.0" height="8.0" fill="#000"/>
<rect x="127.99" y="389.60" width="8.0" height="8.0" fill="#000"/>
<rect x="131.30" y="389.60" width="8.0" height="8.0" fill="#000"/>
<rect x="134.60" y="389.60" width="8.0" height="8.0" fill="#000"/>
<rect x="137.58" y="402.59" width="8.0" height="8.0" fill="#000"/>
<rect x="139.56" y="443.16" width="8.0" height="8.0" fill="#000"/>
<rect x="145.85" y="469.94" width="8.0" height="8.0" fill="#000"/>
<rect x="153.78" y="496.72" width="8.0" height="8.0" fill="#000"/>
<rect x="157.42" y="510.11" width="8.0" height="8.0" fill="#000"/>
<rect x="163.70" y="523.50" width="8.0" height="8.0" fill="#000"/>
<text x="0" y="0" font-size="14.5" text-anchor="middle" textLength="63" lengthAdjust="spacingAndGlyphs" fill="#111" transform="translate(12.6,461.3) rotate(-90)">% Survival</text>
<text x="83.8" y="565.5" font-size="14.5" textLength="106" lengthAdjust="spacingAndGlyphs" fill="#111">Days after tumor</text>
<text x="44.2" y="480.8" font-size="14.5" textLength="59" lengthAdjust="spacingAndGlyphs" fill="#111">vaccines</text>
<path d="M47.8,501.2 Q55.2,497.6 62.4,501.2 L54.7,520.2 Z" fill="#fff" stroke="#555" stroke-width="0.9"/>
<path d="M62.4,501.2 Q69.8,497.2 77.0,501.2 L69.6,520.2 Z" fill="#fff" stroke="#555" stroke-width="0.9"/>
<path d="M45.0,501.3 Q52.3,497.8 59.7,500.9 L52.3,519.6 Z" fill="#000" stroke="#000" stroke-width="0.8"/>
<rect x="51.4" y="486.5" width="4.4" height="13.5" fill="#000"/>
<line x1="69.80" y1="486.50" x2="69.80" y2="499.20" stroke="#000" stroke-width="1.6"/>
<polygon points="41.40,551.60 50.40,568.20 43.50,564.20 41.20,579.00 39.00,564.20 32.40,568.20" fill="#dcdcdc" stroke="#000" stroke-width="2.0" stroke-linejoin="miter" stroke-miterlimit="1.6"/>
<text x="8.3" y="593.1" font-size="14.3" textLength="80.5" lengthAdjust="spacingAndGlyphs" fill="#111">live wt tumor</text>
<text x="271.2" y="327.8" font-size="25" font-weight="bold" fill="#000">D</text>
<rect x="312.7" y="329.7" width="173.8" height="46.1" fill="none" stroke="#a2a2a2" stroke-width="1.2"/>
<rect x="327.20" y="337.70" width="9.8" height="9.8" fill="#000"/>
<ellipse cx="332.70" cy="361.10" rx="5.20" ry="5.20" fill="#000" stroke="none" stroke-width="0"/>
<text x="344.2" y="345.8" font-size="11.6" textLength="128" lengthAdjust="spacingAndGlyphs" fill="#111">vaccine with control B16F1</text>
<text x="344.2" y="365.7" font-size="11.6" textLength="113.2" lengthAdjust="spacingAndGlyphs" fill="#111">vaccine with SDF-B16F1</text>
<line x1="308.60" y1="528.50" x2="313.60" y2="528.50" stroke="#3a3a3a" stroke-width="1.1"/>
<line x1="313.60" y1="501.56" x2="512.40" y2="501.56" stroke="#999999" stroke-width="1.1"/>
<line x1="308.60" y1="501.56" x2="313.60" y2="501.56" stroke="#3a3a3a" stroke-width="1.1"/>
<line x1="313.60" y1="474.62" x2="512.40" y2="474.62" stroke="#999999" stroke-width="1.1"/>
<line x1="308.60" y1="474.62" x2="313.60" y2="474.62" stroke="#3a3a3a" stroke-width="1.1"/>
<line x1="313.60" y1="447.68" x2="512.40" y2="447.68" stroke="#999999" stroke-width="1.1"/>
<line x1="308.60" y1="447.68" x2="313.60" y2="447.68" stroke="#3a3a3a" stroke-width="1.1"/>
<line x1="313.60" y1="420.74" x2="512.40" y2="420.74" stroke="#999999" stroke-width="1.1"/>
<line x1="308.60" y1="420.74" x2="313.60" y2="420.74" stroke="#3a3a3a" stroke-width="1.1"/>
<line x1="313.60" y1="393.80" x2="512.40" y2="393.80" stroke="#999999" stroke-width="1.1"/>
<line x1="308.60" y1="393.80" x2="313.60" y2="393.80" stroke="#3a3a3a" stroke-width="1.1"/>
<line x1="512.40" y1="393.80" x2="512.40" y2="528.50" stroke="#6e6e6e" stroke-width="1.2"/>
<line x1="313.60" y1="393.80" x2="512.40" y2="393.80" stroke="#6e6e6e" stroke-width="1.1"/>
<line x1="313.60" y1="393.30" x2="313.60" y2="529.00" stroke="#3a3a3a" stroke-width="1.3"/>
<line x1="308.60" y1="528.50" x2="512.40" y2="528.50" stroke="#3a3a3a" stroke-width="1.3"/>
<text x="307.0" y="532.8" font-size="10.3" text-anchor="end" textLength="6.13" lengthAdjust="spacingAndGlyphs" fill="#111">0</text>
<text x="307.0" y="505.86" font-size="10.3" text-anchor="end" textLength="12.26" lengthAdjust="spacingAndGlyphs" fill="#111">20</text>
<text x="307.0" y="478.92" font-size="10.3" text-anchor="end" textLength="12.26" lengthAdjust="spacingAndGlyphs" fill="#111">40</text>
<text x="307.0" y="451.98" font-size="10.3" text-anchor="end" textLength="12.26" lengthAdjust="spacingAndGlyphs" fill="#111">60</text>
<text x="307.0" y="425.04" font-size="10.3" text-anchor="end" textLength="12.26" lengthAdjust="spacingAndGlyphs" fill="#111">80</text>
<text x="307.0" y="398.1" font-size="10.3" text-anchor="end" textLength="18.38" lengthAdjust="spacingAndGlyphs" fill="#111">100</text>
<line x1="313.60" y1="528.50" x2="313.60" y2="533.00" stroke="#3a3a3a" stroke-width="1.1"/>
<text x="313.8" y="548.9" font-size="10.3" text-anchor="middle" textLength="6.07" lengthAdjust="spacingAndGlyphs" fill="#111">0</text>
<line x1="342.00" y1="528.50" x2="342.00" y2="533.00" stroke="#3a3a3a" stroke-width="1.1"/>
<text x="342.2" y="548.9" font-size="10.3" text-anchor="middle" textLength="12.14" lengthAdjust="spacingAndGlyphs" fill="#111">10</text>
<line x1="370.40" y1="528.50" x2="370.40" y2="533.00" stroke="#3a3a3a" stroke-width="1.1"/>
<text x="370.6" y="548.9" font-size="10.3" text-anchor="middle" textLength="12.14" lengthAdjust="spacingAndGlyphs" fill="#111">20</text>
<line x1="398.80" y1="528.50" x2="398.80" y2="533.00" stroke="#3a3a3a" stroke-width="1.1"/>
<text x="399.0" y="548.9" font-size="10.3" text-anchor="middle" textLength="12.14" lengthAdjust="spacingAndGlyphs" fill="#111">30</text>
<line x1="427.20" y1="528.50" x2="427.20" y2="533.00" stroke="#3a3a3a" stroke-width="1.1"/>
<text x="427.40000000000003" y="548.9" font-size="10.3" text-anchor="middle" textLength="12.14" lengthAdjust="spacingAndGlyphs" fill="#111">40</text>
<line x1="455.60" y1="528.50" x2="455.60" y2="533.00" stroke="#3a3a3a" stroke-width="1.1"/>
<text x="455.8" y="548.9" font-size="10.3" text-anchor="middle" textLength="12.14" lengthAdjust="spacingAndGlyphs" fill="#111">50</text>
<line x1="484.00" y1="528.50" x2="484.00" y2="533.00" stroke="#3a3a3a" stroke-width="1.1"/>
<text x="484.2" y="548.9" font-size="10.3" text-anchor="middle" textLength="12.14" lengthAdjust="spacingAndGlyphs" fill="#111">60</text>
<line x1="512.40" y1="528.50" x2="512.40" y2="533.00" stroke="#3a3a3a" stroke-width="1.1"/>
<text x="512.6" y="548.9" font-size="10.3" text-anchor="middle" textLength="12.14" lengthAdjust="spacingAndGlyphs" fill="#111">70</text>
<polyline points="324.96,393.80 327.80,393.80 330.64,393.80 333.48,393.80 336.32,393.80 339.16,393.80 342.00,393.80 344.84,393.80 347.68,393.80 350.52,393.80 353.36,393.80 356.20,393.80 359.04,393.80 361.88,393.80 364.72,393.80 367.56,393.80 370.40,393.80 373.24,393.80 376.08,393.80 378.92,393.80 381.76,393.80 384.60,393.80 387.44,393.80 390.28,393.80 393.12,393.80 395.96,393.80 398.80,393.80 411.01,393.80 412.43,420.74 421.24,447.68 429.76,474.62 440.55,474.62 446.80,474.62 455.32,474.62 469.52,474.62 477.47,474.62 483.72,474.62 497.92,474.62 511.83,474.62" fill="none" stroke="#111" stroke-width="1.2"/>
<polyline points="313.60,393.80 324.96,393.80 327.80,393.80 330.64,393.80 333.48,393.80 336.32,393.80 339.16,393.80 342.00,393.80 344.84,393.80 347.68,393.80 350.52,393.80 353.36,393.80 356.20,393.80 359.04,393.80 361.88,393.80 364.72,393.80 367.56,393.80 370.40,393.80 373.24,393.80 376.08,393.80 378.92,393.80 381.76,393.80 384.60,393.80 387.44,393.80 390.28,393.80 393.12,393.80 401.36,406.06 409.88,420.74 413.00,420.74 420.95,474.62 429.76,488.09 441.12,528.50" fill="none" stroke="#111" stroke-width="1.0"/>
<ellipse cx="324.96" cy="392.80" rx="4.30" ry="3.78" fill="#000" stroke="none" stroke-width="0"/>
<ellipse cx="327.80" cy="392.80" rx="4.30" ry="3.78" fill="#000" stroke="none" stroke-width="0"/>
<ellipse cx="330.64" cy="392.80" rx="4.30" ry="3.78" fill="#000" stroke="none" stroke-width="0"/>
<ellipse cx="333.48" cy="392.80" rx="4.30" ry="3.78" fill="#000" stroke="none" stroke-width="0"/>
<ellipse cx="336.32" cy="392.80" rx="4.30" ry="3.78" fill="#000" stroke="none" stroke-width="0"/>
<ellipse cx="339.16" cy="392.80" rx="4.30" ry="3.78" fill="#000" stroke="none" stroke-width="0"/>
<ellipse cx="342.00" cy="392.80" rx="4.30" ry="3.78" fill="#000" stroke="none" stroke-width="0"/>
<ellipse cx="344.84" cy="392.80" rx="4.30" ry="3.78" fill="#000" stroke="none" stroke-width="0"/>
<ellipse cx="347.68" cy="392.80" rx="4.30" ry="3.78" fill="#000" stroke="none" stroke-width="0"/>
<ellipse cx="350.52" cy="392.80" rx="4.30" ry="3.78" fill="#000" stroke="none" stroke-width="0"/>
<ellipse cx="353.36" cy="392.80" rx="4.30" ry="3.78" fill="#000" stroke="none" stroke-width="0"/>
<ellipse cx="356.20" cy="392.80" rx="4.30" ry="3.78" fill="#000" stroke="none" stroke-width="0"/>
<ellipse cx="359.04" cy="392.80" rx="4.30" ry="3.78" fill="#000" stroke="none" stroke-width="0"/>
<ellipse cx="361.88" cy="392.80" rx="4.30" ry="3.78" fill="#000" stroke="none" stroke-width="0"/>
<ellipse cx="364.72" cy="392.80" rx="4.30" ry="3.78" fill="#000" stroke="none" stroke-width="0"/>
<ellipse cx="367.56" cy="392.80" rx="4.30" ry="3.78" fill="#000" stroke="none" stroke-width="0"/>
<ellipse cx="370.40" cy="392.80" rx="4.30" ry="3.78" fill="#000" stroke="none" stroke-width="0"/>
<ellipse cx="373.24" cy="392.80" rx="4.30" ry="3.78" fill="#000" stroke="none" stroke-width="0"/>
<ellipse cx="376.08" cy="392.80" rx="4.30" ry="3.78" fill="#000" stroke="none" stroke-width="0"/>
<ellipse cx="378.92" cy="392.80" rx="4.30" ry="3.78" fill="#000" stroke="none" stroke-width="0"/>
<ellipse cx="381.76" cy="392.80" rx="4.30" ry="3.78" fill="#000" stroke="none" stroke-width="0"/>
<ellipse cx="384.60" cy="392.80" rx="4.30" ry="3.78" fill="#000" stroke="none" stroke-width="0"/>
<ellipse cx="387.44" cy="392.80" rx="4.30" ry="3.78" fill="#000" stroke="none" stroke-width="0"/>
<ellipse cx="390.28" cy="392.80" rx="4.30" ry="3.78" fill="#000" stroke="none" stroke-width="0"/>
<ellipse cx="393.12" cy="392.80" rx="4.30" ry="3.78" fill="#000" stroke="none" stroke-width="0"/>
<ellipse cx="395.96" cy="392.80" rx="4.30" ry="3.78" fill="#000" stroke="none" stroke-width="0"/>
<ellipse cx="398.80" cy="392.80" rx="4.30" ry="3.78" fill="#000" stroke="none" stroke-width="0"/>
<ellipse cx="411.01" cy="392.80" rx="4.30" ry="3.78" fill="#000" stroke="none" stroke-width="0"/>
<ellipse cx="412.43" cy="419.74" rx="4.30" ry="3.78" fill="#000" stroke="none" stroke-width="0"/>
<ellipse cx="421.24" cy="446.68" rx="4.30" ry="3.78" fill="#000" stroke="none" stroke-width="0"/>
<ellipse cx="429.76" cy="473.62" rx="4.30" ry="3.78" fill="#000" stroke="none" stroke-width="0"/>
<ellipse cx="440.55" cy="473.62" rx="4.30" ry="3.78" fill="#000" stroke="none" stroke-width="0"/>
<ellipse cx="446.80" cy="473.62" rx="4.30" ry="3.78" fill="#000" stroke="none" stroke-width="0"/>
<ellipse cx="455.32" cy="473.62" rx="4.30" ry="3.78" fill="#000" stroke="none" stroke-width="0"/>
<ellipse cx="469.52" cy="473.62" rx="4.30" ry="3.78" fill="#000" stroke="none" stroke-width="0"/>
<ellipse cx="477.47" cy="473.62" rx="4.30" ry="3.78" fill="#000" stroke="none" stroke-width="0"/>
<ellipse cx="483.72" cy="473.62" rx="4.30" ry="3.78" fill="#000" stroke="none" stroke-width="0"/>
<ellipse cx="497.92" cy="473.62" rx="4.30" ry="3.78" fill="#000" stroke="none" stroke-width="0"/>
<ellipse cx="511.83" cy="473.62" rx="4.30" ry="3.78" fill="#000" stroke="none" stroke-width="0"/>
<rect x="309.50" y="388.70" width="8.2" height="8.2" fill="#000"/>
<rect x="320.86" y="388.70" width="8.2" height="8.2" fill="#000"/>
<rect x="323.70" y="388.70" width="8.2" height="8.2" fill="#000"/>
<rect x="326.54" y="388.70" width="8.2" height="8.2" fill="#000"/>
<rect x="329.38" y="388.70" width="8.2" height="8.2" fill="#000"/>
<rect x="332.22" y="388.70" width="8.2" height="8.2" fill="#000"/>
<rect x="335.06" y="388.70" width="8.2" height="8.2" fill="#000"/>
<rect x="337.90" y="388.70" width="8.2" height="8.2" fill="#000"/>
<rect x="340.74" y="388.70" width="8.2" height="8.2" fill="#000"/>
<rect x="343.58" y="388.70" width="8.2" height="8.2" fill="#000"/>
<rect x="346.42" y="388.70" width="8.2" height="8.2" fill="#000"/>
<rect x="349.26" y="388.70" width="8.2" height="8.2" fill="#000"/>
<rect x="352.10" y="388.70" width="8.2" height="8.2" fill="#000"/>
<rect x="354.94" y="388.70" width="8.2" height="8.2" fill="#000"/>
<rect x="357.78" y="388.70" width="8.2" height="8.2" fill="#000"/>
<rect x="360.62" y="388.70" width="8.2" height="8.2" fill="#000"/>
<rect x="363.46" y="388.70" width="8.2" height="8.2" fill="#000"/>
<rect x="366.30" y="388.70" width="8.2" height="8.2" fill="#000"/>
<rect x="369.14" y="388.70" width="8.2" height="8.2" fill="#000"/>
<rect x="371.98" y="388.70" width="8.2" height="8.2" fill="#000"/>
<rect x="374.82" y="388.70" width="8.2" height="8.2" fill="#000"/>
<rect x="377.66" y="388.70" width="8.2" height="8.2" fill="#000"/>
<rect x="380.50" y="388.70" width="8.2" height="8.2" fill="#000"/>
<rect x="383.34" y="388.70" width="8.2" height="8.2" fill="#000"/>
<rect x="386.18" y="388.70" width="8.2" height="8.2" fill="#000"/>
<rect x="389.02" y="388.70" width="8.2" height="8.2" fill="#000"/>
<rect x="397.26" y="400.96" width="8.2" height="8.2" fill="#000"/>
<rect x="405.78" y="415.64" width="8.2" height="8.2" fill="#000"/>
<rect x="408.90" y="415.64" width="8.2" height="8.2" fill="#000"/>
<rect x="416.85" y="469.52" width="8.2" height="8.2" fill="#000"/>
<rect x="425.66" y="482.99" width="8.2" height="8.2" fill="#000"/>
<rect x="437.02" y="523.40" width="8.2" height="8.2" fill="#000"/>
<text x="0" y="0" font-size="14.5" text-anchor="middle" textLength="63" lengthAdjust="spacingAndGlyphs" fill="#111" transform="translate(283.5,461) rotate(-90)">% Survival</text>
<text x="358.8" y="566.2" font-size="14.5" textLength="106" lengthAdjust="spacingAndGlyphs" fill="#111">Days after tumor</text>
<text x="316.0" y="486.5" font-size="14.5" textLength="52" lengthAdjust="spacingAndGlyphs" fill="#111">vaccine</text>
<line x1="324.70" y1="489.20" x2="324.70" y2="504.00" stroke="#000" stroke-width="1.8"/>
<polygon points="317.30,503.50 331.80,503.50 324.60,523.00" fill="#000" stroke="#000" stroke-width="0.8" stroke-linejoin="miter" stroke-miterlimit="1.6"/>
<polygon points="313.40,551.60 322.30,568.40 315.40,564.00 313.20,578.80 311.00,564.00 304.00,568.40" fill="#dcdcdc" stroke="#000" stroke-width="2.0" stroke-linejoin="miter" stroke-miterlimit="1.6"/>
<text x="279.2" y="593.1" font-size="14.3" textLength="80.5" lengthAdjust="spacingAndGlyphs" fill="#111">live wt tumor</text>
</svg>
</body></html>
